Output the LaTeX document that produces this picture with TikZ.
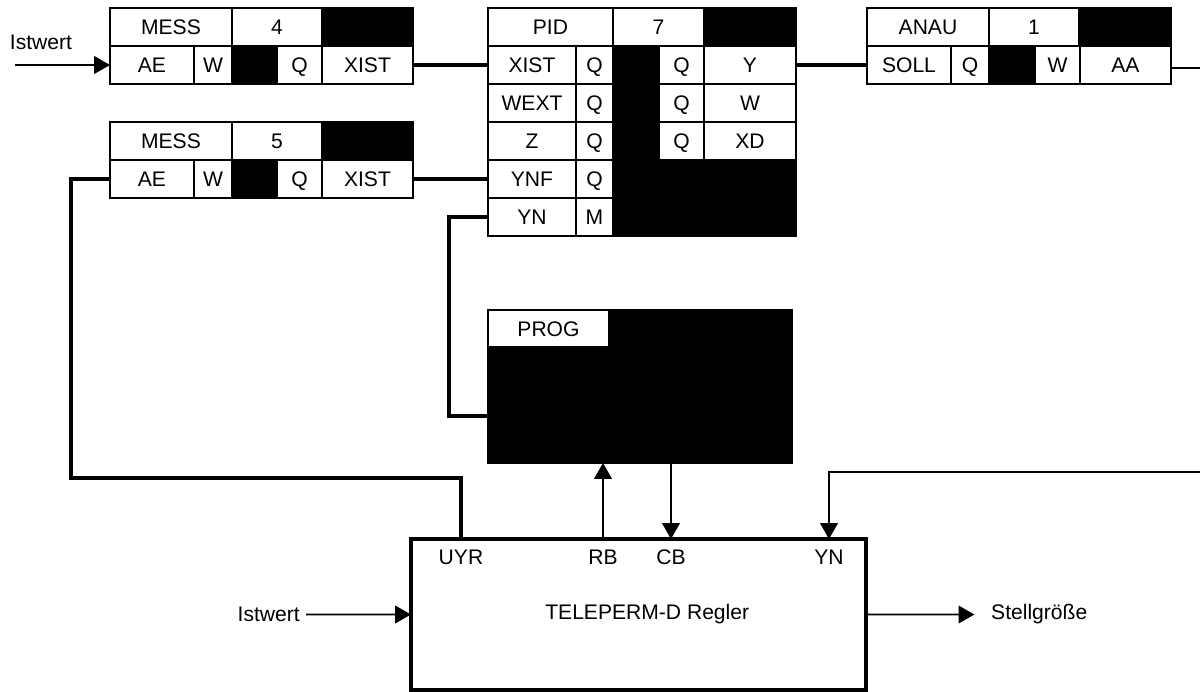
\documentclass[tikz,border=0pt]{standalone}
\usepackage{fontspec}
\setmainfont{Liberation Sans}
\usetikzlibrary{arrows.meta,positioning}

\begin{document}
\begin{tikzpicture}[
    x=0.02cm, y=-0.02cm,
    node distance=0pt,
    font=\fontsize{12}{14}\selectfont,
    cell/.style={draw, fill=white, line width=1.1pt, minimum height=0.76cm, inner sep=0pt, outer sep=0pt,
                 text height=8.6pt, text depth=0pt},
    blk/.style={cell, fill=black},
    wire/.style={line width=2.1pt},
    arr/.style={-{Triangle[length=9pt,width=10pt]}, line width=1pt}
]
\useasboundingbox (0,0) rectangle (1200,691);

% MESS 4
\node[cell, anchor=north west, minimum width=2.44cm] (m4name) at (110,8) {MESS};
\node[cell, right=of m4name, minimum width=1.8cm] (m4nr) {4};
\node[blk, right=of m4nr, minimum width=1.82cm] (m4top) {};
\node[cell, anchor=north west, minimum width=1.68cm] (m4ae) at (110,46) {AE};
\node[cell, right=of m4ae, minimum width=0.76cm] (m4w) {W};
\node[blk, right=of m4w, minimum width=0.9cm] (m4mid) {};
\node[cell, right=of m4mid, minimum width=0.9cm] (m4q) {Q};
\node[cell, right=of m4q, minimum width=1.82cm] (m4xist) {XIST};

% MESS 5
\node[cell, anchor=north west, minimum width=2.44cm] (m5name) at (110,122) {MESS};
\node[cell, right=of m5name, minimum width=1.8cm] (m5nr) {5};
\node[blk, right=of m5nr, minimum width=1.82cm] (m5top) {};
\node[cell, anchor=north west, minimum width=1.68cm] (m5ae) at (110,160) {AE};
\node[cell, right=of m5ae, minimum width=0.76cm] (m5w) {W};
\node[blk, right=of m5w, minimum width=0.9cm] (m5mid) {};
\node[cell, right=of m5mid, minimum width=0.9cm] (m5q) {Q};
\node[cell, right=of m5q, minimum width=1.82cm] (m5xist) {XIST};

% PID 7
\node[cell, anchor=north west, minimum width=2.5cm] (pidname) at (488,8) {PID};
\node[cell, right=of pidname, minimum width=1.82cm] (pidnr) {7};
\node[blk, right=of pidnr, minimum width=1.84cm] (pidtop) {};
\node[cell, anchor=north west, minimum width=1.76cm] (pidxist) at (488,46) {XIST};
\node[cell, right=of pidxist, minimum width=0.74cm] (pidq1) {Q};
\node[cell, below=of pidxist, minimum width=1.76cm] (pidwext) {WEXT};
\node[cell, right=of pidwext, minimum width=0.74cm] (pidq2) {Q};
\node[cell, below=of pidwext, minimum width=1.76cm] (pidz) {Z};
\node[cell, right=of pidz, minimum width=0.74cm] (pidq3) {Q};
\node[cell, below=of pidz, minimum width=1.76cm] (pidynf) {YNF};
\node[cell, right=of pidynf, minimum width=0.74cm] (pidq4) {Q};
\node[cell, below=of pidynf, minimum width=1.76cm] (pidyn) {YN};
\node[cell, right=of pidyn, minimum width=0.74cm] (pidm) {M};
\node[blk, anchor=north west, minimum width=0.92cm, minimum height=3.8cm] (pidcol) at (613,46) {};
\node[cell, anchor=north west, minimum width=0.9cm] (pidqy) at (659,46) {Q};
\node[cell, right=of pidqy, minimum width=1.84cm] (pidy) {Y};
\node[cell, below=of pidqy, minimum width=0.9cm] (pidqw) {Q};
\node[cell, right=of pidqw, minimum width=1.84cm] (pidw) {W};
\node[cell, below=of pidqw, minimum width=0.9cm] (pidqxd) {Q};
\node[cell, right=of pidqxd, minimum width=1.84cm] (pidxd) {XD};
\node[blk, anchor=north west, minimum width=2.74cm, minimum height=1.52cm] (pidbot) at (659,160) {};

% ANAU 1
\node[cell, anchor=north west, minimum width=2.44cm] (anname) at (867,8) {ANAU};
\node[cell, right=of anname, minimum width=1.8cm] (annr) {1};
\node[blk, right=of annr, minimum width=1.84cm] (antop) {};
\node[cell, anchor=north west, minimum width=1.68cm] (ansoll) at (867,46) {SOLL};
\node[cell, right=of ansoll, minimum width=0.76cm] (anq) {Q};
\node[blk, right=of anq, minimum width=0.92cm] (anmid) {};
\node[cell, right=of anmid, minimum width=0.9cm] (anw) {W};
\node[cell, right=of anw, minimum width=1.82cm] (anaa) {AA};

% PROG
\node[blk, anchor=north west, minimum width=6.08cm, minimum height=3.06cm] (prog) at (488,310) {};
\node[cell, anchor=north west, minimum width=2.42cm, minimum height=0.74cm] (progname) at (488,310) {PROG};

% Regler
\node[draw, line width=2pt, anchor=north west, minimum width=9.1cm, minimum height=3.02cm,
      inner sep=0pt, outer sep=0pt] (regler) at (411,539) {\hspace*{10pt}TELEPERM-D Regler};
\node (uyr) at (461,557) {UYR};
\node (rb) at (603,557) {RB};
\node (cb) at (671,557) {CB};
\node (yn) at (829,557) {YN};

\node (ist1) at (41,42) {Istwert};
\node[anchor=east] (ist2) at (306,614.5) {Istwert};
\node[anchor=west] (stell) at (985,614.5) {Stellgröße};
\coordinate (istin) at (15,65);
\coordinate (aaout) at (1200,68);
\coordinate (ynin) at (1200,472);
\coordinate (uyrc) at (71,478);
\coordinate (ync) at (449,217);

% Verbindungen
\draw[arr] (istin) -- (m4ae.west);
\draw[wire] (m4xist.east) -- (pidxist.west);
\draw[wire] (m5xist.east) -- (pidynf.west);
\draw[wire] (m5ae.west) -| (uyrc) -| (uyr |- regler.north);
\draw[wire] (pidyn.west) -| (ync) |- (prog.west |- 0,416);
\draw[wire] (pidy.east) -- (ansoll.west);
\draw[line width=1pt] (anaa.east |- aaout) -- (aaout);
\draw[arr] (ynin) -| (yn |- regler.north);
\draw[arr] (rb |- regler.north) -- (rb |- prog.south);
\draw[arr] (cb |- prog.south) -- (cb |- regler.north);
\draw[arr] (ist2.east) -- (regler.west);
\draw[arr, shorten >=6pt] (regler.east) -- (stell.west);
\end{tikzpicture}
\end{document}
